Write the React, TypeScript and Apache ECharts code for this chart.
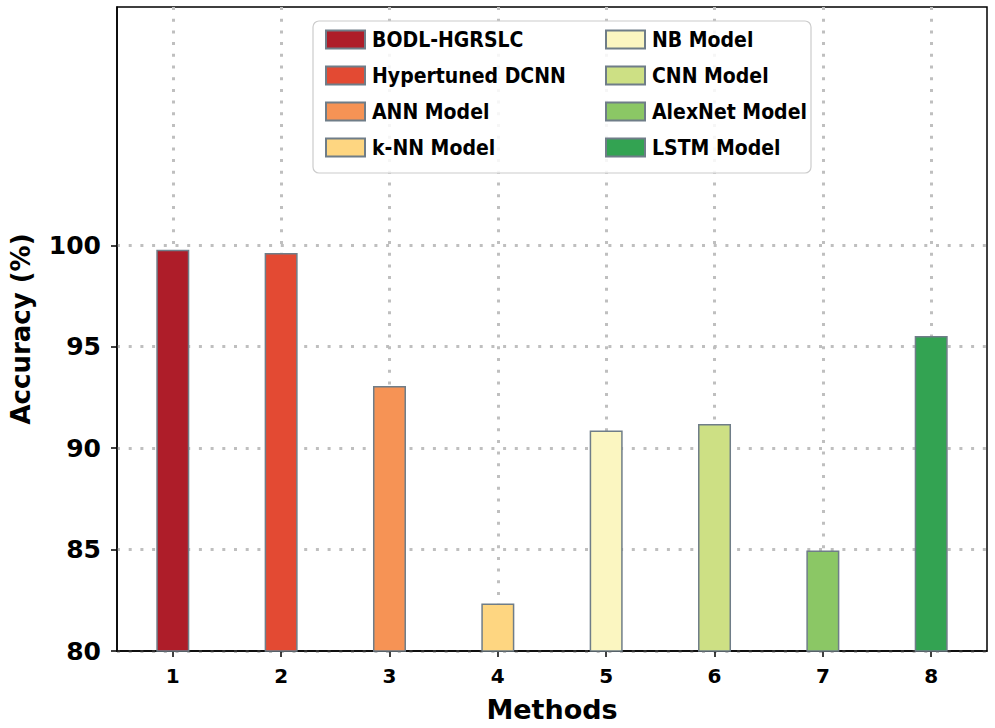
import React, { useEffect, useRef } from 'react';
import * as echarts from 'echarts';

const methods = [
  'BODL-HGRSLC',
  'Hypertuned DCNN',
  'ANN Model',
  'k-NN Model',
  'NB Model',
  'CNN Model',
  'AlexNet Model',
  'LSTM Model',
];
const positions = [1, 2, 3, 4, 5, 6, 7, 8];
const accuracy = [99.78, 99.62, 93.07, 82.34, 90.87, 91.19, 84.96, 95.53];
const colors = ['#ae1d29', '#e34a33', '#f69355', '#fed681', '#fbf6c1', '#cde084', '#8bc765', '#33a352'];
const yTicks = [80, 85, 90, 95, 100];

const FONT = 'DejaVu Sans';
const GRID_STYLE = { color: '#bfbfbf', width: 3, type: [3, 8.7] as number[] };

export default function App() {
  const ref = useRef<HTMLDivElement>(null);
  useEffect(() => {
    const chart = echarts.init(ref.current!, null, { renderer: 'svg' });
    const series = methods.map((name, i) => ({
      name,
      type: 'bar',
      stack: 'all',
      barWidth: 33,
      z: 2,
      data: [[positions[i], accuracy[i]]],
      itemStyle: { color: colors[i], borderColor: '#6f7d88', borderWidth: 1.5 },
    }));
    const legendBase = {
      orient: 'vertical',
      icon: 'rect',
      itemWidth: 39,
      itemHeight: 18,
      itemGap: 15,
      top: 24,
      z: 5,
      textStyle: {
        fontSize: 21,
        fontWeight: 'bold',
        fontFamily: "'DejaVu Sans Condensed', 'DejaVu Sans'",
        color: '#000',
        padding: [0, 0, 0, 2],
      },
    };
    chart.setOption({
      animation: false,
      backgroundColor: '#fff',
      grid: { left: 116, right: 8, top: 7, bottom: 74, show: true, borderColor: '#000', borderWidth: 1.5, backgroundColor: 'transparent' },
      legend: [
        { ...legendBase, left: 320, data: methods.slice(0, 4) },
        { ...legendBase, left: 600, data: methods.slice(4) },
      ],
      graphic: [
        {
          type: 'rect',
          z: 3,
          shape: { x: 313, y: 21, width: 498, height: 152, r: 6 },
          style: { fill: 'rgba(255,255,255,0.85)', stroke: '#cccccc', lineWidth: 1.2 },
        },
      ],
      xAxis: {
        type: 'value',
        min: 0.485,
        max: 8.515,
        name: 'Methods',
        nameLocation: 'middle',
        nameGap: 45,
        nameTextStyle: { fontSize: 27, fontWeight: 'bold', fontFamily: FONT, color: '#000' },
        axisLine: { show: true, lineStyle: { color: '#000', width: 1.5 } },
        axisTick: { show: true, length: 6, customValues: positions, lineStyle: { color: '#000', width: 1.5 } },
        axisLabel: {
          customValues: positions,
          margin: 15,
          fontSize: 20,
          fontWeight: 'bold',
          fontFamily: FONT,
          color: '#000',
          formatter: (v: number) => String(v),
        },
        splitLine: { show: true, lineStyle: GRID_STYLE },
      },
      yAxis: {
        type: 'value',
        min: 80,
        max: 111.75,
        interval: 5,
        name: 'Accuracy (%)',
        nameLocation: 'middle',
        nameGap: 83,
        nameRotate: 90,
        nameTextStyle: { fontSize: 26, fontWeight: 'bold', fontFamily: FONT, color: '#000' },
        axisLine: { show: true, lineStyle: { color: '#000', width: 1.5 } },
        axisTick: { show: true, length: 6, customValues: yTicks, lineStyle: { color: '#000', width: 1.5 } },
        axisLabel: {
          customValues: yTicks,
          margin: 16,
          fontSize: 25,
          fontWeight: 'bold',
          fontFamily: FONT,
          color: '#000',
        },
        splitLine: { show: true, lineStyle: GRID_STYLE },
      },
      series,
    });
    return () => chart.dispose();
  }, []);
  return <div ref={ref} style={{ position: 'absolute', left: 0, top: 0, width: 995, height: 728 }} />;
}
